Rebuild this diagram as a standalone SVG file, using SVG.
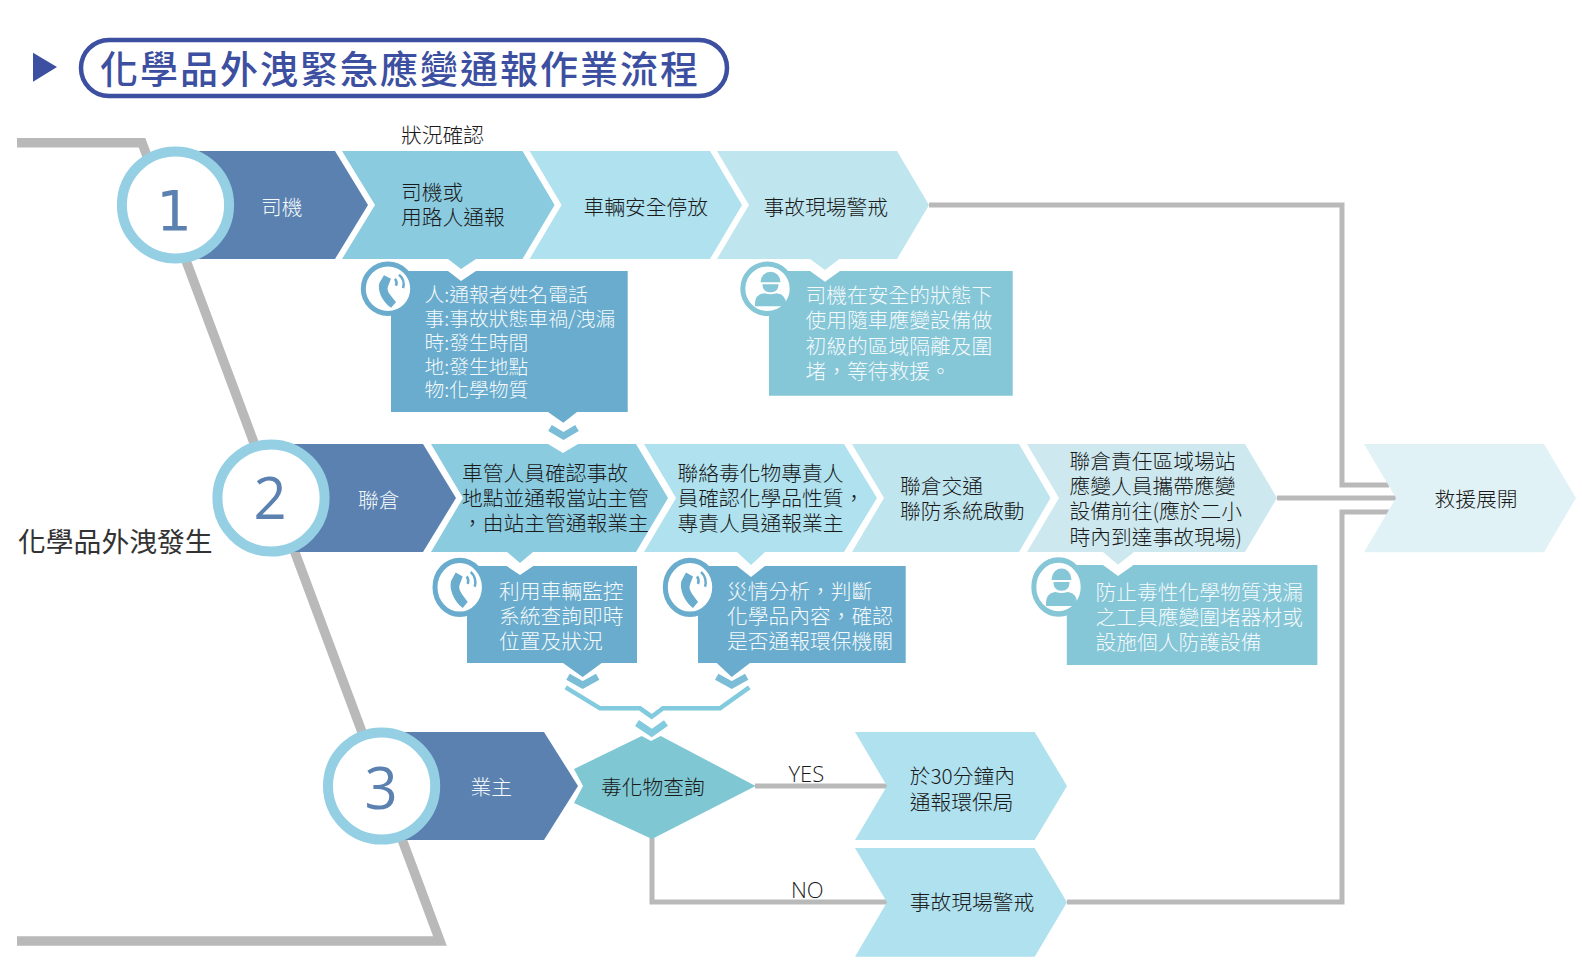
<svg xmlns="http://www.w3.org/2000/svg" width="1582" height="970" viewBox="0 0 1582 970">
<style>
text{font-family:"Noto Sans CJK TC","Noto Sans CJK SC",sans-serif;font-size:20.75px;font-weight:300;fill:#1a1a1a}
.w{fill:#f4fafc}
.sm{font-size:19.8px}
.n{font-family:"Open Sans","Noto Sans",sans-serif;font-size:58px;fill:#5b81b0;text-anchor:middle;font-weight:500}
.lat{font-family:"Open Sans","Noto Sans",sans-serif;font-size:22px}
.ln{fill:none;stroke:#b9b9b9;stroke-width:5}
.ring{fill:#fff;stroke:#94cfe4;stroke-width:10}
.dark{fill:#5b81b0}
.mk{fill:none;stroke-width:7}
</style>
<defs>
<g id="phone">
<circle r="24.700" fill="#fff" stroke="#6aaccd" stroke-width="5"/>
<path fill="#6aaccd" d="M-4-13.500L3-10L0-2.500C-1 0-.5 3 2.500 6.500L8 13.500L3 19C-6 13-11 1-8.500-6Z"/>
<path fill="none" stroke="#6aaccd" stroke-width="2.500" d="M7-10A7 7 0 0 1 8-3M11-14A12 12 0 0 1 15-.5"/>
</g>
<g id="worker">
<circle r="24.700" fill="#fff" stroke="#85c6d7" stroke-width="5"/>
<path fill="#85c6d7" d="M-7-6.500A10 10.500 0 0 1 13-6.500Z"/>
<path fill="#85c6d7" d="M-5-4.500H11C11 1 8 3.500 3 3.500S-5 1-5-4.500Z"/>
<path fill="#85c6d7" d="M-12.500 17.500Q-13.500 5.500-3 4.500Q3 6.500 9 4.500Q19.500 5.500 18.500 17.500Z"/>
</g>
</defs>

<g id="title">
<path fill="#3c4fa0" d="M33 52.700L57 67L33 81.700Z"/>
<rect x="81" y="40" width="646" height="56" rx="28" fill="#fff" stroke="#3c4fa0" stroke-width="4.500"/>
<text x="100" y="83" style="font-size:38px;letter-spacing:2px;fill:#3c4fa0;font-weight:500">化學品外洩緊急應變通報作業流程</text>
</g>

<g id="connectors">
<polyline class="ln" style="stroke-width:9.500" points="17,142.700 142,142.700 440,941 17,941"/>
<polyline class="ln" points="929,205 1342,205 1342,485 1389,485"/>
<line class="ln" x1="1277" y1="498" x2="1396" y2="498"/>
<polyline class="ln" points="1067,902 1342,902 1342,512 1389,512"/>
<line class="ln" x1="755" y1="786" x2="888" y2="786"/>
<polyline class="ln" points="652,838 652,902 888,902"/>
<polyline class="mk" stroke="#7bbdd6" points="550,428 563.500,436 577,428"/>
<polyline class="mk" stroke="#7bbdd6" points="568,676.700 582.700,685 597.700,676.700"/>
<polyline class="mk" stroke="#7bbdd6" points="716.700,676.700 731.700,685 746.700,676.700"/>
<polyline fill="none" stroke="#82cadd" stroke-width="4.500" points="565.700,687.300 600,708.300 640,708.300 651.700,716.700 663,708.300 720,708.300 749.300,687.300"/>
<polyline class="mk" stroke="#82cadd" points="637,723 651.700,733 666,723"/>
</g>

<g id="s1-driver"><path class="dark" d="M190 151H335L368 205L335 259H190Z"/><text class="w" x="261" y="214.500">司機</text></g>
<g id="step1"><circle class="ring" cx="175.500" cy="205" r="53.600"/><text class="n" x="174" y="229.500" style="font-family:'DejaVu Sans',sans-serif;font-size:56px;font-weight:400">1</text></g>
<g id="s1-report"><path fill="#8acbe0" d="M342 151H522.500L554.600 205L522.500 259H476L461 269L448 259H342L375 205Z"/>
<text x="401" y="143">狀況確認</text>
<text x="401" y="200">司機或</text><text x="401" y="224.500">用路人通報</text></g>
<g id="s1-park"><path fill="#afe1ef" d="M529.600 151H710L742 205L710 259H529.600L561.600 205Z"/><text x="583.500" y="215">車輛安全停放</text></g>
<g id="s1-guard"><path fill="#bfe5ee" d="M717 151H897L929 205L897 259H839.300L825 270L810 259H717L749 205Z"/><text x="763.500" y="215">事故現場警戒</text></g>
<g id="box-call1"><path fill="#6aaccd" d="M391 271H448L461 281L476 271H627.700V412H577L563.300 422.700L548 412H391Z"/>
<use href="#phone" x="388" y="288.700"/>
<text class="w sm" x="424.500" y="301.500">人:通報者姓名電話</text><text class="w sm" x="424.500" y="325.500">事:事故狀態車禍/洩漏</text><text class="w sm" x="424.500" y="349.500">時:發生時間</text><text class="w sm" x="424.500" y="373.500">地:發生地點</text><text class="w sm" x="424.500" y="397">物:化學物質</text></g>
<g id="box-driver"><path fill="#85c6d7" d="M769 271H810L825 281.700L840 271H1012.700V395.700H769Z"/>
<use href="#worker" x="767.500" y="288.700"/>
<text class="w" x="805.500" y="303">司機在安全的狀態下</text><text class="w" x="805.500" y="328">使用隨車應變設備做</text><text class="w" x="805.500" y="353.500">初級的區域隔離及圍</text><text class="w" x="805.500" y="378.500">堵，等待救援。</text></g>

<g id="s2-depot"><path class="dark" d="M290 444H423L456 498L423 552H290Z"/><text class="w" x="358" y="508">聯倉</text></g>
<g id="step2"><circle class="ring" cx="271" cy="498" r="53.600"/><text class="n" x="270" y="519">2</text></g>
<g id="s2-confirm"><path fill="#8acbe0" d="M431 444H548L563 453L578 444H636L668 498L636 552H533L520 563L507 552H431L463 498Z"/>
<text x="462" y="481">車管人員確認事故</text><text x="462" y="506">地點並通報當站主管</text><text x="462" y="531">，由站主管通報業主</text></g>
<g id="s2-contact"><path fill="#afe1ef" d="M644 444H844L877 498L844 552H765L751 565L737 552H644L676 498Z"/>
<text x="677.500" y="481">聯絡毒化物專責人</text><text x="677.500" y="506">員確認化學品性質，</text><text x="677.500" y="531">專責人員通報業主</text></g>
<g id="s2-system"><path fill="#bfe5ee" d="M852 444H1019L1050.500 498L1019 552H852L884 498Z"/>
<text x="900" y="494">聯倉交通</text><text x="900" y="519">聯防系統啟動</text></g>
<g id="s2-dispatch"><path fill="#cde9ef" d="M1027 444H1245L1277 498L1245 552H1134L1118 564.700L1103 552H1027L1059 498Z"/>
<text x="1069.500" y="469">聯倉責任區域場站</text><text x="1069.500" y="494">應變人員攜帶應變</text><text x="1069.500" y="519">設備前往(應於二小</text><text x="1069.500" y="545">時內到達事故現場)</text></g>
<g id="s-rescue"><path fill="#e0f2f5" d="M1364 444H1544L1576 498L1544 552.300H1364L1396 498Z"/><text x="1434.500" y="507">救援展開</text></g>
<g id="box-call2"><path fill="#6aaccd" d="M467 566H506.700L520 575L533.300 566H637V663H601.700L582.700 677L563 663H467Z"/>
<use href="#phone" transform="translate(459.700 587.300) scale(1 1.090)"/>
<text class="w" x="499" y="599">利用車輛監控</text><text class="w" x="499" y="624">系統查詢即時</text><text class="w" x="499" y="649">位置及狀況</text></g>
<g id="box-call3"><path fill="#6aaccd" d="M698 566H737L751 577L765 566H905.700V663H750L731.700 677L716.700 663H698Z"/>
<use href="#phone" transform="translate(690 587.300) scale(1 1.090)"/>
<text class="w" x="727" y="599">災情分析，判斷</text><text class="w" x="727" y="624">化學品內容，確認</text><text class="w" x="727" y="649">是否通報環保機關</text></g>
<g id="box-depot"><path fill="#85c6d7" d="M1066.800 565H1103L1118 576L1133.600 565H1317.400V665H1066.800Z"/>
<use href="#worker" transform="translate(1058.500 587) scale(1 1.090)"/>
<text class="w" x="1095.500" y="600">防止毒性化學物質洩漏</text><text class="w" x="1095.500" y="624.500">之工具應變圍堵器材或</text><text class="w" x="1095.500" y="649.500">設施個人防護設備</text></g>

<g id="s3-owner"><path class="dark" d="M400 732H544L578 786L544 840H400Z"/><text class="w" x="470.500" y="795">業主</text></g>
<g id="step3"><circle class="ring" cx="381.600" cy="786" r="53.600"/><text class="n" x="381" y="808.500">3</text></g>
<g id="d-query"><path fill="#7fc7d3" d="M641.700 736L651 741L660.700 736L755.600 786L652 839L574 803L583 786L574 769Z"/><text x="601" y="795">毒化物查詢</text></g>
<g id="s3-yes"><path fill="#afe1ef" d="M855 732H1034.700L1067 786L1034.700 840H855L887 786Z"/><text x="909.700" y="784">於30分鐘內</text><text x="909.700" y="810">通報環保局</text></g>
<g id="s3-no"><path fill="#afe1ef" d="M855 848H1034.700L1067 902.300L1034.700 956.700H855L887 902.300Z"/><text x="909.700" y="910">事故現場警戒</text></g>

<g id="labels">
<text class="lat" x="788.500" y="781.500">YES</text>
<text class="lat" x="791" y="897.500">NO</text>
<text x="18" y="552" style="font-size:27.800px;fill:#333;font-weight:400">化學品外洩發生</text>
</g>
</svg>
